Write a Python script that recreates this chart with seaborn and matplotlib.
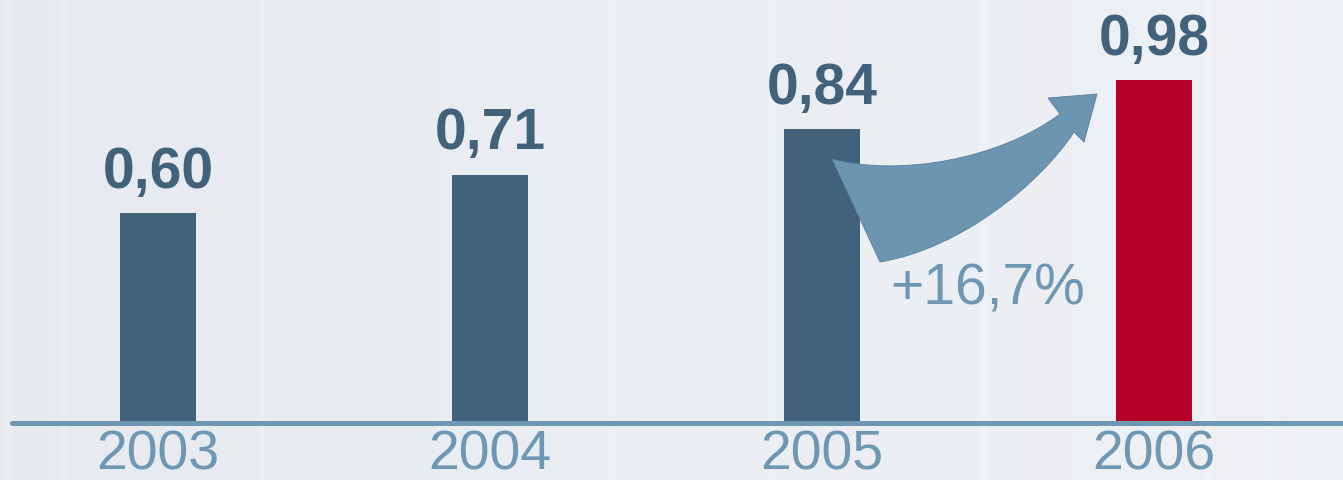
import numpy as np
import pandas as pd
import seaborn as sns
import matplotlib
matplotlib.use("Agg")
import matplotlib.pyplot as plt
from matplotlib.path import Path
from matplotlib.patches import PathPatch

# ---- data ----
years = ["2003", "2004", "2005", "2006"]
values = [0.60, 0.71, 0.84, 0.98]
value_labels = ["0,60", "0,71", "0,84", "0,98"]
growth_label = "+16,7%"

dark = "#41627A"
red = "#B50027"
light = "#6E97B3"
bar_colors = [dark, dark, dark, red]

sns.set_theme(style="white")
plt.rcParams["font.family"] = ["Liberation Sans", "DejaVu Sans"]

W, H = 1343, 481
fig = plt.figure(figsize=(W / 100, H / 100), dpi=100)
ax = fig.add_axes([0, 0, 1, 1])

# geometry: category spacing 332 px, 350 px per value unit, baseline at 424 px
x0_px, step_px, base_px, unit_px = 158, 332, 424, 350
xlim = (-x0_px / step_px, (W - x0_px) / step_px)
ylim = (-(H - base_px) / unit_px, base_px / unit_px)

def px(x, y):
    return ((x - x0_px) / step_px, (base_px - y) / unit_px)

# background gradient with faint vertical stripes
nx, ny = 400, 120
gx = np.linspace(0, 1, nx)
base = np.array([0.905, 0.918, 0.935])
tip = np.array([0.932, 0.942, 0.958])
img = base[None, None, :] + (tip - base)[None, None, :] * gx[None, :, None]
img = np.broadcast_to(img, (ny, nx, 3)).copy()
for sx in [12, 65, 262, 612, 775, 985, 1210, 1270]:
    col = int(sx / W * nx)
    img[:, max(col - 1, 0):col + 1, :] += 0.012
img = np.clip(img, 0, 1)
ax.imshow(img, extent=(xlim[0], xlim[1], ylim[0], ylim[1]), aspect="auto", zorder=0,
          interpolation="bilinear")

df = pd.DataFrame({"year": years, "value": values})
sns.barplot(data=df, x="year", y="value", hue="year", palette=bar_colors,
            width=76 / step_px, legend=False, ax=ax, zorder=2, saturation=1,
            edgecolor="none", linewidth=0)

# baseline axis line
ax.axhline(0, xmin=12 / W, xmax=1, color=light, lw=3.6, zorder=3)

# value labels
for i, (v, lab) in enumerate(zip(values, value_labels)):
    ax.text(i, v + 26 / unit_px, lab, ha="center", va="baseline", fontsize=41,
            fontweight="bold", color=dark, zorder=4)
    ax.text(i, -46 / unit_px, years[i], ha="center", va="baseline", fontsize=40,
            color=light, zorder=4)

# growth arrow
verts = [px(832, 160), px(900, 178), px(1000, 160), px(1060, 115),
         px(1048, 99), px(1097, 95), px(1084, 143), px(1074, 133),
         px(1040, 185), px(960, 250), px(880, 263), px(832, 160)]
codes = [Path.MOVETO, Path.CURVE4, Path.CURVE4, Path.CURVE4,
         Path.LINETO, Path.LINETO, Path.LINETO, Path.LINETO,
         Path.CURVE4, Path.CURVE4, Path.CURVE4, Path.CLOSEPOLY]
ax.add_patch(PathPatch(Path(verts, codes), facecolor="#6B95B0", edgecolor="#5A7F99",
                       lw=0.6, zorder=5))
ax.text(2.5, (base_px - 305) / unit_px, growth_label, ha="center", va="baseline",
        fontsize=41, color=light, zorder=4)

ax.set_xlim(*xlim)
ax.set_ylim(*ylim)
ax.set_axis_off()
fig.savefig("out.png", dpi=100)
